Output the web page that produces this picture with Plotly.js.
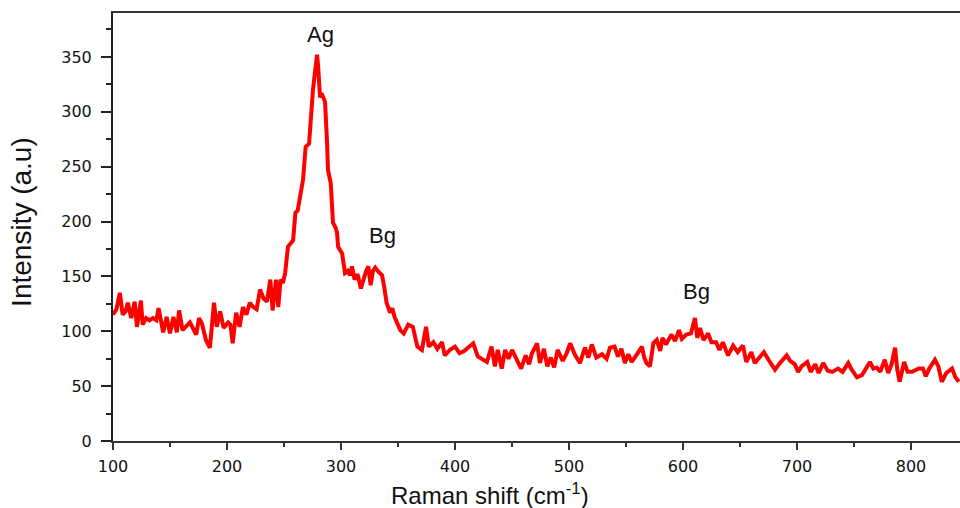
<!DOCTYPE html>
<html>
<head>
<meta charset="utf-8">
<script src="https://cdn.plot.ly/plotly-3.0.1.min.js"></script>
<style>html,body{margin:0;padding:0;background:#fff;}#chart{width:960px;height:508px;}</style>
</head>
<body>
<div id="chart"></div>
<script>
// Raman shift (cm^-1)
const ramanShift = [
100,103,106,108.5,111,113,116,119,121,124.5,126,129,132,135,138,140,144,147,150,153,156,158,161,164,167.5,170,173,175.5,178,181.5,185,188.6,191,194,197,201,203,205,208,211,214,217,220,223,226,229,232,235,238,240,243,245,247,249,251,253.5,256,258,260,262,264.5,266.7,269,272,275.4,277,279,280,281.6,283,286,287.7,288.6,291,293,295,296.5,297.5,301,303.5,306,308,309.6,312,314.5,317.5,320,322,324,326,328,330,333,336,338,340,343,345,347,349,352,355,359,363,367,371,374.6,377,381,384.5,388.6,391,395.6,400,404,408,412,416,420,424,428,432,435,437.5,441,444,447,450,454,458,462,465,467.5,472,474.5,478,481,484,487,490,494.5,498,501,505,509.6,514,517,520,524,529,533,536,540,543,546,549,552,555,559,564,566,568,571,574,577,580,582,585,590,593,596.5,599,603,607,610.5,612.5,615,618,622,625,629,632,635,639.5,644,648,652.6,655.5,660,663,667,671,675,680.7,685,691,694,698,701,704,709,712,716,719,723,727,731,736,740,745,748,752.6,757,764,767,770,773,777,780,783,786,788,790,794,797,801,807,810.5,813,816,821,824,827,831,836,839,842
];
// Intensity (a.u)
const intensity = [
115,120,135,115,118,126,112,127,104,128,106,112,110,112,110,121,99,113,98,113,99,119,101,104,108,103,97,112,107,92,85,126,104,118,103,108,106,89,117,104,122,115,126,122,120,138,130,127,147,119,147,122,147,144,153,177,180,183,208,210,225,238,268,271,320,335,352,341,313,317,309,274,247,235,199,195,190,177,171,153,155,151,159,147,152,139,150,155,159,142,155,158,154,151,140,126,117,121,113,108,101,98,106,104,86,83,104,86,90,84,90,78,83,86,80,82,85,89,77,74,72,86,68,83,66,83,75,83,75,66,78,70,80,89,71,84,68,76,67,83,73,80,89,79,71,85,76,88,76,79,75,85,86,77,84,71,79,72,78,86,76,71,68,89,92,82,94,88,97,91,101,93,97,98,112,94,103,92,98,90,90,83,90,78,87,81,87,72,81,71,76,81,74,65,71,78,73,70,63,68,72,63,70,62,71,64,63,66,63,71,65,58,60,72,66,67,63,74,62,70,85,65,54,72,63,63,66,66,59,66,74,68,54,62,66,58,54
];
const xTickVals = [100,200,300,400,500,600,700,800];
const yTickVals = [0,50,100,150,200,250,300,350];
const peakLabels = ["Ag","Bg","Bg"];
const peakX = [281.6,336,612];
const peakY = [370,187,136];
const xTitle = 'Raman shift (cm<sup>-1</sup>)';
const yTitle = 'Intensity (a.u)';

const trace = {
  x: ramanShift, y: intensity, type: 'scatter', mode: 'lines',
  line: {color: '#ff0000', width: 4, shape: 'linear'},
  hoverinfo: 'skip'
};

const titleFont = 'Liberation Sans, Arial, sans-serif';
const annotations = peakLabels.map((t, i) => ({
  x: peakX[i], y: peakY[i], xref: 'x', yref: 'y', text: t, showarrow: false,
  font: {family: titleFont, size: 22, color: '#111'}
}));
annotations.push({
  xref: 'paper', yref: 'paper', x: 0.445, y: -0.124, xanchor: 'center', yanchor: 'middle',
  text: xTitle, showarrow: false,
  font: {family: titleFont, size: 24, color: '#111'}
});
annotations.push({
  xref: 'paper', yref: 'paper', x: -0.1074, y: 0.512, xanchor: 'center', yanchor: 'middle',
  text: yTitle, showarrow: false, textangle: -90,
  font: {family: titleFont, size: 28, color: '#111'}
});

const tickLabel = v => '<span style="font-size:16px;font-family:DejaVu Sans">' + v + '</span>';
const tickFont = {family: 'DejaVu Sans, sans-serif', size: 16, color: '#111'};

const layout = {
  width: 960, height: 508,
  margin: {l: 113, r: 0, t: 13, b: 67, pad: 0},
  paper_bgcolor: '#fff', plot_bgcolor: '#fff',
  showlegend: false,
  font: {family: 'DejaVu Sans, sans-serif', size: 16, color: '#111'},
  xaxis: {
    range: [100, 843], tickmode: 'array', tickvals: xTickVals, ticktext: xTickVals.map(tickLabel),
    ticks: 'outside', ticklen: 7, tickwidth: 2, tickcolor: '#333',
    minor: {dtick: 50, tick0: 0, ticks: 'outside', ticklen: 4, tickwidth: 2, tickcolor: '#333', showgrid: false},
    showline: true, linecolor: '#333', linewidth: 2, mirror: true,
    showgrid: false, zeroline: false,
    tickfont: tickFont, ticklabelstandoff: 3
  },
  yaxis: {
    range: [0, 390], tickmode: 'array', tickvals: yTickVals, ticktext: yTickVals.map(tickLabel),
    ticks: 'outside', ticklen: 10, tickwidth: 2, tickcolor: '#222',
    minor: {dtick: 50, tick0: 25, ticks: 'outside', ticklen: 5, tickwidth: 2, tickcolor: '#222', showgrid: false},
    showline: true, linecolor: '#222', linewidth: 2, mirror: false,
    showgrid: false, zeroline: false,
    tickfont: tickFont, ticklabelstandoff: 6
  },
  annotations: annotations
};

Plotly.newPlot('chart', [trace], layout, {displayModeBar: false, staticPlot: true});
</script>
</body>
</html>
